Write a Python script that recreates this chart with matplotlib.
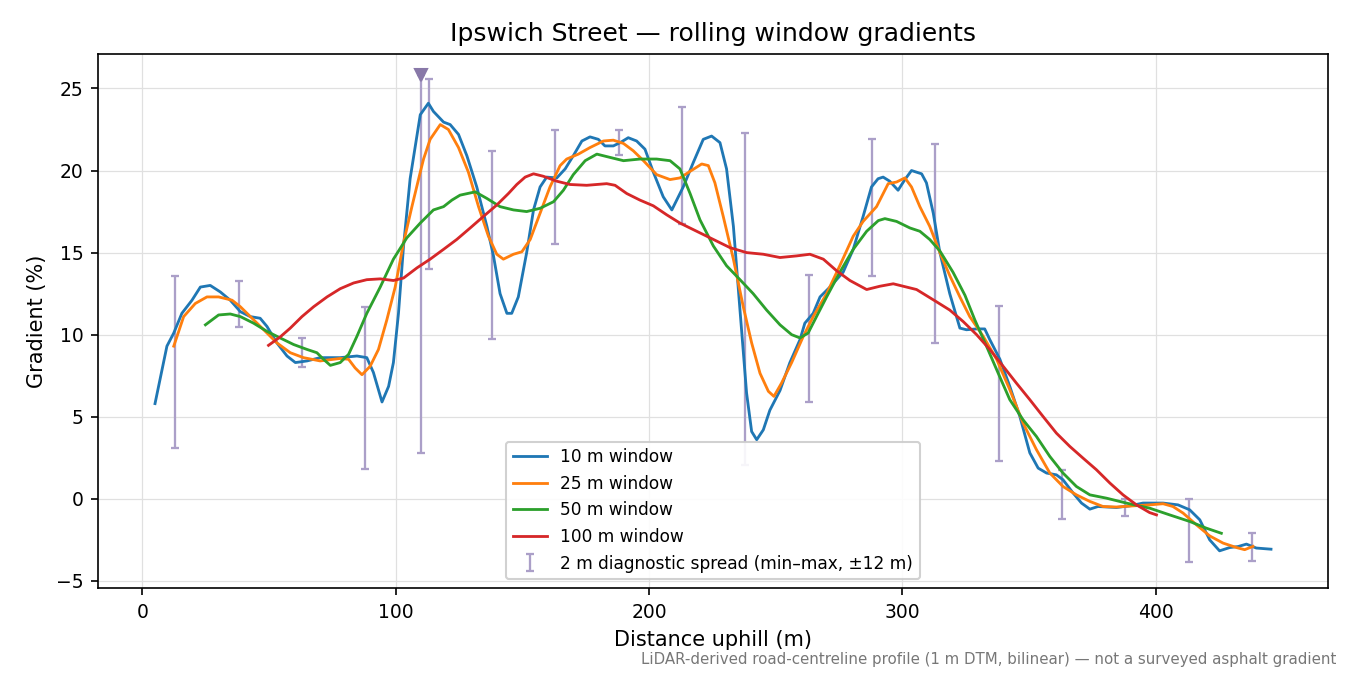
import matplotlib
matplotlib.use("Agg")
import matplotlib.pyplot as plt

# ---------------- data ----------------
w10_x = [5, 9.7, 12.4, 15.6, 19.6, 22.9, 26.8, 30.8, 34.7, 38.7, 42.6, 46.5, 49.2, 53.1, 57.1, 60.4,
         65, 70.2, 78.1, 84.7, 88.6, 91.2, 94.6, 97.2, 99.1, 101.1, 103.1, 105.7, 109.7, 112.9, 114.9,
         118.9, 121.5, 124.8, 128.1, 132, 136, 138.6, 141.2, 143.9, 145.8, 148.4, 151.7, 154.4, 157,
         159.6, 163.6, 166.9, 170.1, 173.5, 176.7, 180, 182.6, 185.9, 188.6, 191.8, 195.1, 198.4, 201.7,
         205.6, 209, 213.5, 217.5, 221.4, 224.7, 228, 230.6, 233.3, 235.9, 238.5, 240.5, 242.5, 245.1,
         247.7, 251.7, 255.6, 259.6, 261.5, 264.8, 267.5, 271.4, 276.6, 280.6, 284.5, 287.8, 290.4,
         292.4, 295, 298.3, 301, 303.6, 307.6, 309.5, 312.2, 314.8, 318.7, 322.7, 325.3, 329.3, 332.5,
         334.5, 338.5, 342.4, 346.4, 350.3, 353.6, 356.9, 360.8, 363.4, 367.4, 370.7, 374, 377.2, 384.5,
         389.7, 395, 402.9, 408.8, 413.4, 417.4, 421.3, 425.2, 429.2, 432.5, 435.8, 439.7, 445.5]
w10_y = [5.8, 9.3, 10.1, 11.3, 12.1, 12.9, 13.0, 12.6, 12.1, 11.4, 11.1, 11.0, 10.5, 9.5, 8.7, 8.3,
         8.4, 8.6, 8.6, 8.7, 8.6, 7.7, 5.9, 6.85, 8.3, 11.3, 15.4, 19.5, 23.4, 24.1, 23.6,
         22.95, 22.8, 22.2, 20.9, 19.0, 16.6, 14.8, 12.5, 11.3, 11.3, 12.3, 15.0, 17.6, 19.0,
         19.6, 19.55, 20.1, 20.9, 21.8, 22.05, 21.9, 21.5, 21.5, 21.7, 22.0, 21.8, 21.3, 19.9,
         18.4, 17.6, 19.0, 20.5, 21.9, 22.1, 21.7, 20.1, 16.6, 11.5, 6.45, 4.1, 3.6, 4.2,
         5.4, 6.6, 8.3, 9.7, 10.7, 11.3, 12.3, 12.9, 13.8, 15.2, 17.2, 19.0, 19.5,
         19.6, 19.35, 18.8, 19.45, 20.0, 19.8, 19.25, 17.4, 15.0, 12.5, 10.4, 10.3, 10.35, 10.35,
         9.7, 8.5, 6.85, 5.0, 2.8, 1.87, 1.57, 1.46, 1.16, 0.35, -0.26, -0.63, -0.47, -0.53,
         -0.43, -0.26, -0.26, -0.37, -0.67, -1.28, -2.5, -3.17, -2.97, -2.91, -2.76, -3.0, -3.07]

w25_x = [12.4, 16.3, 20.9, 25.5, 30.1, 35.4, 38.7, 43.3, 47.9, 53.1, 58.4, 63.6, 70.2, 78.1, 81.4,
         84, 86.7, 89.9, 93.2, 96.5, 99.8, 103.1, 106.4, 109.7, 111, 113.6, 117.6, 120.8, 124.8,
         128.7, 132.7, 136.6, 139.9, 142.5, 146.5, 149.8, 153.1, 157, 160.9, 164.9, 167.5, 172.1,
         176.7, 182, 185.9, 189.9, 193.8, 197.8, 203, 208.3, 212.2, 216.2, 220.8, 223.4, 226,
         229.3, 233.3, 237.2, 240.5, 243.8, 247.1, 249.3, 252.3, 256.3, 260.9, 264.8, 270.1, 275.3,
         280.6, 284.5, 289.8, 294.4, 297.7, 301, 303.6, 306.9, 310.8, 314.8, 318.7, 322.7, 326.6,
         331.9, 337.2, 342.4, 347.7, 352.9, 358.2, 363.4, 368.7, 374, 379.2, 384.5, 391.1, 397.6,
         402.9, 406.8, 410.8, 416.1, 421.3, 426.6, 431.9, 435.1, 438.4]
w25_y = [9.3, 11.1, 11.9, 12.3, 12.3, 12.1, 11.7, 11.0, 10.3, 9.5, 8.9, 8.6, 8.4, 8.55, 8.5,
         7.97, 7.56, 8.07, 9.1, 10.9, 12.9, 15.6, 17.8, 19.9, 20.7, 21.9, 22.8, 22.5, 21.4,
         19.9, 17.8, 16.0, 14.9, 14.6, 14.9, 15.05, 15.8, 17.4, 19.0, 20.3, 20.7, 21.0,
         21.4, 21.8, 21.85, 21.65, 21.2, 20.6, 19.75, 19.45, 19.55, 19.95, 20.4, 20.3, 19.25,
         17.2, 14.6, 11.7, 9.5, 7.65, 6.55, 6.24, 7.05, 8.3, 9.9, 11.1, 12.5, 14.2,
         16.0, 16.9, 17.8, 19.2, 19.3, 19.55, 19.0, 17.8, 16.6, 15.0, 13.6, 12.3, 11.1,
         9.9, 8.5, 6.65, 4.6, 3.0, 1.57, 0.75, 0.24, -0.16, -0.47, -0.5, -0.43, -0.37,
         -0.3, -0.47, -0.87, -1.59, -2.26, -2.7, -2.97, -3.1, -2.9]

w50_x = [24.9, 30.1, 34.7, 38.7, 43.9, 49.2, 54.4, 59.7, 65, 68.9, 71.5, 74.2, 78.1, 81.4, 84.7,
         88.6, 93.9, 99.1, 104.4, 109.7, 114.9, 118.9, 122.2, 125.4, 131.4, 136, 141.2, 146.5,
         151.7, 157, 162.3, 166.2, 170.1, 174.8, 179.4, 184.6, 189.9, 196.4, 203, 208.3, 212.2,
         216.2, 220.1, 225.4, 230.6, 235.9, 241.1, 246.4, 251.7, 256.3, 259.6, 262.8, 266.1, 270.1,
         275.3, 280.6, 285.9, 290.5, 293.1, 297.7, 303, 306.9, 310.8, 314.8, 320, 324.7, 328.6,
         333.2, 337.8, 342.4, 347.7, 352.9, 358.2, 363.4, 368.7, 374, 380.5, 388.4, 397.6, 405.5,
         413.4, 420, 425.9]
w50_y = [10.6, 11.2, 11.26, 11.1, 10.7, 10.2, 9.8, 9.4, 9.1, 8.9, 8.5, 8.13, 8.3, 8.8, 9.9,
         11.3, 12.9, 14.6, 15.9, 16.8, 17.6, 17.8, 18.2, 18.5, 18.7, 18.3, 17.8, 17.6,
         17.5, 17.7, 18.1, 18.8, 19.75, 20.6, 21.0, 20.8, 20.6, 20.7, 20.7, 20.6, 20.1,
         18.6, 17.0, 15.4, 14.2, 13.35, 12.5, 11.5, 10.6, 10.0, 9.8, 10.1, 11.1, 12.3,
         13.8, 15.2, 16.3, 16.95, 17.07, 16.9, 16.5, 16.3, 15.8, 15.1, 13.8, 12.4, 10.9,
         9.3, 7.66, 6.04, 4.8, 3.8, 2.58, 1.57, 0.75, 0.24, 0.04, -0.26, -0.57, -0.98,
         -1.38, -1.79, -2.1]

w100_x = [49.8, 54.4, 58.4, 63, 67.6, 72.9, 78.1, 83.4, 88.6, 93.9, 99.1, 103.1, 108.4, 113.6,
          118.9, 124.1, 129.4, 134.6, 139.9, 144.5, 147.8, 151.1, 154.4, 158.3, 163.6, 168.8,
          175.4, 183.3, 186.6, 191.2, 196.4, 201.7, 207, 212.2, 218.8, 225.4, 232, 238.5, 245.1,
          251.7, 258.3, 263.5, 268.8, 274, 279.3, 285.9, 291.1, 296.4, 305.6, 313.5, 318.7, 324,
          329.3, 334.5, 339.8, 345, 350.3, 355.5, 360.8, 366.1, 371.3, 376.6, 381.9, 387.1, 392.4,
          397.6, 400.3]
w100_y = [9.35, 9.86, 10.4, 11.1, 11.7, 12.3, 12.8, 13.15, 13.35, 13.4, 13.3, 13.45, 14.07, 14.6,
          15.2, 15.8, 16.5, 17.2, 17.9, 18.6, 19.15, 19.6, 19.8, 19.65, 19.35, 19.15,
          19.1, 19.2, 19.1, 18.6, 18.2, 17.85, 17.3, 16.8, 16.3, 15.8, 15.3, 15.0, 14.9,
          14.7, 14.8, 14.9, 14.6, 13.9, 13.3, 12.75, 12.95, 13.1, 12.75, 12.0, 11.5, 10.8,
          10.0, 9.1, 8.07, 7.05, 6.04, 5.02, 4.0, 3.19, 2.48, 1.77, 0.96, 0.24, -0.37,
          -0.84, -0.98]

spread_x = [13, 38, 63, 88, 113, 138, 163, 188, 213, 238, 263, 288, 313, 338, 363, 388, 413, 438]
spread_lo = [3.07, 10.45, 8.03, 1.81, 14.0, 9.74, 15.55, 20.93, 16.75, 2.05, 5.91, 13.6, 9.47,
             2.28, -1.26, -1.02, -3.88, -3.76]
spread_hi = [13.55, 13.3, 9.78, 11.67, 25.6, 21.2, 22.5, 22.44, 23.9, 22.26, 13.66, 21.9, 21.6,
             11.77, 1.77, -0.02, 0.0, -2.11]

steep_x = [110]
steep_lo = [2.8]
steep_hi = [25.85]

labels = ["10 m window", "25 m window", "50 m window", "100 m window"]
colors = ["#1f77b4", "#ff7f0e", "#2ca02c", "#d62728"]

# ---------------- plot ----------------
fig, ax = plt.subplots(figsize=(9, 4.5), dpi=150)
fig.subplots_adjust(left=0.0726, right=0.9837, top=0.92, bottom=0.129)

for xs, ys, lab, c in zip([w10_x, w25_x, w50_x, w100_x], [w10_y, w25_y, w50_y, w100_y], labels, colors):
    ax.plot(xs, ys, color=c, lw=1.35, label=lab, zorder=3)

bar_color = "#ab9fc8"
mid = [(l + h) / 2 for l, h in zip(spread_lo, spread_hi)]
err = [[m - l for m, l in zip(mid, spread_lo)], [h - m for h, m in zip(spread_hi, mid)]]
ax.errorbar(spread_x, mid, yerr=err, fmt="none", ecolor=bar_color, elinewidth=1.1,
            capsize=2, capthick=1.1, label="2 m diagnostic spread (min\u2013max, \u00b112 m)", zorder=2)

smid = [(l + h) / 2 for l, h in zip(steep_lo, steep_hi)]
serr = [[m - l for m, l in zip(smid, steep_lo)], [h - m for h, m in zip(steep_hi, smid)]]
ax.errorbar(steep_x, smid, yerr=serr, fmt="none", ecolor=bar_color, elinewidth=1.1,
            capsize=2, capthick=1.1, zorder=2)
ax.plot(steep_x, steep_hi, marker="v", color="#8878a8", markersize=6, ls="none", zorder=4)

ax.set_xlim(-17.5, 468)
ax.set_ylim(-5.43, 27.1)
ax.grid(True, color="#e0e0e0", lw=0.6)
ax.set_axisbelow(True)
ax.tick_params(labelsize=9)
ax.set_xlabel("Distance uphill (m)", fontsize=10)
ax.set_ylabel("Gradient (%)", fontsize=10)
ax.set_title("Ipswich Street \u2014 rolling window gradients", fontsize=12)
ax.legend(loc="lower center", fontsize=8.2, framealpha=0.9)

fig.text(0.99, 0.012, "LiDAR-derived road-centreline profile (1 m DTM, bilinear) \u2014 not a surveyed asphalt gradient",
         ha="right", va="bottom", fontsize=7.2, color="#777777")

fig.savefig("out.png", dpi=150)
